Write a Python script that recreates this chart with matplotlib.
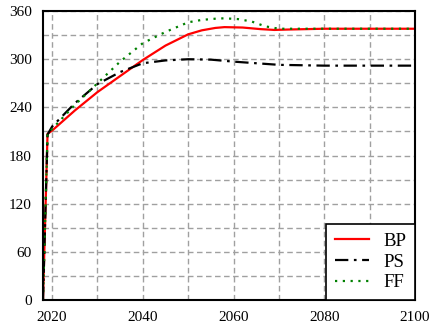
import matplotlib.pyplot as plt
from matplotlib.ticker import MultipleLocator

plt.rcParams['font.family'] = ['Liberation Serif', 'DejaVu Serif']

# data
years_bp = [2018, 2019, 2020, 2025, 2030, 2035, 2040, 2045, 2050, 2053, 2056, 2058, 2062, 2066, 2069, 2072, 2080, 2090, 2100]
bp = [0, 207, 211, 236, 259, 279, 299, 317, 331, 336, 339, 340, 339.5, 337.5, 336.5, 337, 338, 338, 338]

years_ps = [2018, 2019, 2020, 2025, 2030, 2035, 2040, 2045, 2050, 2055, 2060, 2065, 2070, 2080, 2090, 2100]
ps = [0, 206, 216, 245, 269, 284, 295, 298.5, 300, 299.5, 297, 295, 293, 292, 292, 292]

years_ff = [2018, 2019, 2020, 2025, 2030, 2035, 2040, 2045, 2050, 2053, 2056, 2058, 2061, 2064, 2067, 2070, 2080, 2090, 2100]
ff = [0, 207, 213, 243, 270, 297, 320, 334, 346, 349, 350.5, 351, 350, 347, 341, 338, 338, 338, 338]

fig = plt.figure(figsize=(4.3, 3.26), dpi=100)
ax = fig.add_axes([0.1, 0.08, 0.865, 0.886])

ax.plot(years_bp, bp, color='red', lw=1.6, label='BP')
ax.plot(years_ps, ps, color='black', lw=1.6, ls=(0, (6, 2.5, 1.2, 2.5)), label='PS')
ax.plot(years_ff, ff, color='green', lw=1.6, ls=(0, (1, 2.5)), label='FF')

ax.set_xlim(2018, 2100)
ax.set_ylim(0, 360)
ax.xaxis.set_minor_locator(MultipleLocator(10))
ax.yaxis.set_major_locator(MultipleLocator(60))
ax.yaxis.set_minor_locator(MultipleLocator(30))
ax.set_xticks([2020, 2040, 2060, 2080, 2100])
ax.grid(True, which='both', color='#a0a0a0', ls=(0, (4, 2.5)), lw=1)
ax.tick_params(which='both', length=0, labelsize=11)
ax.tick_params(axis='x', pad=8)
ax.tick_params(axis='y', pad=8)
for s in ax.spines.values():
    s.set_linewidth(1.5)

leg = ax.legend(loc='lower right', fontsize=13.5, fancybox=False, framealpha=1,
                edgecolor='black', borderaxespad=0, handlelength=1.8,
                labelspacing=0.2, borderpad=0.45)
leg.get_frame().set_linewidth(1.2)

fig.savefig('out.png', dpi=100)
